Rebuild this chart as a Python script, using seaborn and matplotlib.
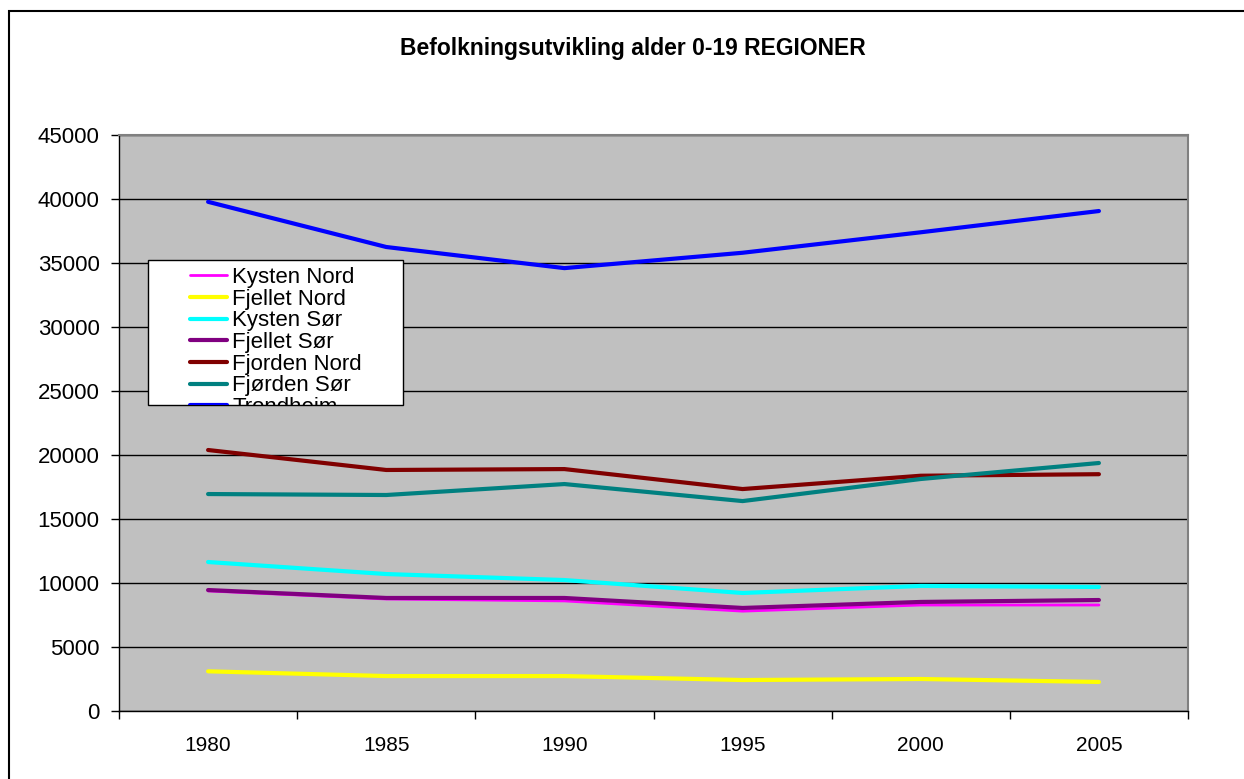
import matplotlib
matplotlib.use("Agg")
import matplotlib.pyplot as plt
import numpy as np
import pandas as pd
import seaborn as sns
from matplotlib.patches import Rectangle
from matplotlib.lines import Line2D

sns.set_style("white")
plt.rcParams["font.family"] = ["Liberation Sans", "DejaVu Sans"]
plt.rcParams["text.color"] = "black"
plt.rcParams["xtick.color"] = "black"
plt.rcParams["ytick.color"] = "black"

# Data
years = ["1980", "1985", "1990", "1995", "2000", "2005"]
kysten_nord = [9380, 8750, 8600, 7800, 8280, 8280]
fjellet_nord = [3100, 2730, 2730, 2420, 2500, 2270]
kysten_sor = [11640, 10700, 10230, 9220, 9770, 9690]
fjellet_sor = [9450, 8830, 8830, 8050, 8520, 8670]
fjorden_nord = [20390, 18830, 18900, 17340, 18380, 18500]
fjorden_sor = [16950, 16875, 17730, 16400, 18125, 19375]
trondheim = [39780, 36250, 34600, 35800, 37400, 39060]

series_names = ["Kysten Nord", "Fjellet Nord", "Kysten Sør", "Fjellet Sør",
                "Fjorden Nord", "Fjørden Sør", "Trondheim"]
series_values = [kysten_nord, fjellet_nord, kysten_sor, fjellet_sor,
                 fjorden_nord, fjorden_sor, trondheim]
colors = ["#FF00FF", "#FFFF00", "#00FFFF", "#800080", "#800000", "#008080", "#0000FF"]
widths = [2.0, 3.0, 3.0, 3.0, 3.0, 3.0, 3.0]

W, H = 1244, 779
fig = plt.figure(figsize=(W / 100, H / 100), dpi=100)
ax = fig.add_axes([119 / W, (H - 711) / H, (1188 - 119) / W, (711 - 135) / H])
ax.set_facecolor("#C0C0C0")

for name, vals, col, lw in zip(series_names, series_values, colors, widths):
    df = pd.DataFrame({"year": years, "value": vals})
    sns.lineplot(data=df, x="year", y="value", color=col, linewidth=lw, ax=ax,
                 label=name, legend=False)

ax.set_xlim(-0.5, 5.5)
ax.set_ylim(0, 45000)
ax.set_yticks(np.arange(0, 45001, 5000))
ax.yaxis.grid(True, color="black", linewidth=1.0)
ax.set_axisbelow(True)
ax.set_xlabel("")
ax.set_ylabel("")

# category ticks between years, labels at centers
ax.set_xticks(np.arange(-0.5, 6, 1.0))
ax.set_xticklabels([])
ax.set_xticks(np.arange(len(years)), minor=True)
ax.set_xticklabels(years, minor=True)
ax.tick_params(axis="x", which="major", direction="out", length=6, width=1, color="black", bottom=True)
ax.tick_params(axis="x", which="minor", length=0, pad=18, labelsize=15)
ax.tick_params(axis="y", direction="out", length=6, width=1, color="black", left=True, pad=8, labelsize=16)

for side in ["left", "bottom"]:
    ax.spines[side].set_color("black")
    ax.spines[side].set_linewidth(1.0)
for side in ["top", "right"]:
    ax.spines[side].set_color("#808080")
    ax.spines[side].set_linewidth(1.5)

fig.text(633 / W, 1 - 48 / H, "Befolkningsutvikling alder 0-19 REGIONER",
         ha="center", va="center", fontsize=16.5, fontweight="bold")

# figure border
fig.patches.append(Rectangle((9 / W, -0.1), 2, 1 - 11 / H + 0.1, transform=fig.transFigure,
                             fill=False, edgecolor="black", linewidth=1.5, clip_on=False))

# legend box (clipped, like in the original)
lx0, lx1, ly0, ly1 = 148, 403, 260, 405
box = Rectangle((lx0 / W, 1 - ly1 / H), (lx1 - lx0) / W, (ly1 - ly0) / H,
                transform=fig.transFigure, facecolor="white", edgecolor="black",
                linewidth=1.0, zorder=5)
fig.patches.append(box)
handles = [Line2D([], [], color=c, linewidth=lw) for c, lw in zip(colors, widths)]
leg = fig.legend(handles, series_names, loc="upper left",
                 bbox_to_anchor=(190 / W, 1 - 267 / H), frameon=False,
                 fontsize=16, labelspacing=0.03, handlelength=1.65, handletextpad=0.25,
                 borderpad=0, borderaxespad=0)
leg.set_zorder(6)
clip = Rectangle((lx0 / W, 1 - ly1 / H), (lx1 - lx0) / W, (ly1 - ly0) / H,
                 transform=fig.transFigure)
for a in leg.findobj():
    a.set_clip_path(clip)
    a.set_clip_on(True)

fig.savefig("out.png", dpi=100)
